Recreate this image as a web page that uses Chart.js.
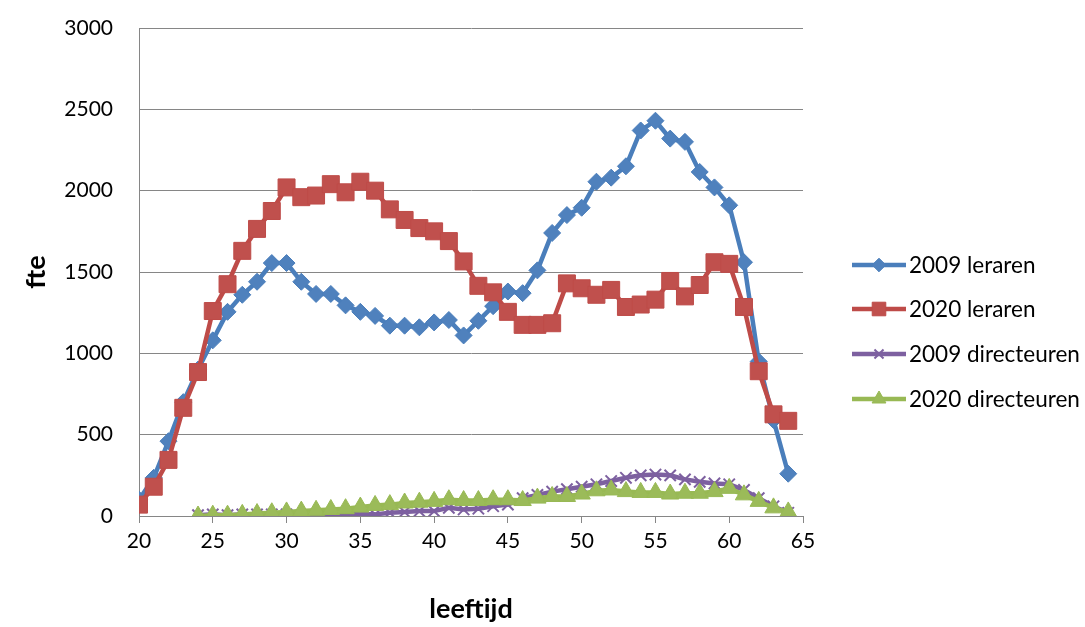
<!DOCTYPE html>
<html lang="nl">
<head>
<meta charset="UTF-8">
<title>fte naar leeftijd</title>
<script src="https://cdn.jsdelivr.net/npm/chart.js@4/dist/chart.umd.min.js"></script>
<style>
  html, body { margin: 0; padding: 0; background: #fff; }
  #wrap { width: 1085px; height: 627px; position: relative; }
</style>
</head>
<body>
<div id="wrap"><canvas id="chart" width="1085" height="627"></canvas></div>
<script>
// ages 20..64 for leraren, 24..64 for directeuren
const agesLeraren = [20, 21, 22, 23, 24, 25, 26, 27, 28, 29, 30, 31, 32, 33, 34, 35, 36, 37, 38, 39, 40, 41, 42,
  43, 44, 45, 46, 47, 48, 49, 50, 51, 52, 53, 54, 55, 56, 57, 58, 59, 60, 61, 62, 63, 64];
const agesDirecteuren = [24, 25, 26, 27, 28, 29, 30, 31, 32, 33, 34, 35, 36, 37, 38, 39, 40, 41, 42,
  43, 44, 45, 46, 47, 48, 49, 50, 51, 52, 53, 54, 55, 56, 57, 58, 59, 60, 61, 62, 63, 64];

const leraren2009 = [100, 235, 460, 700, 900, 1080, 1255, 1360, 1440, 1555, 1555, 1440, 1365, 1365, 1295,
  1255, 1230, 1170, 1170, 1160, 1190, 1205, 1110, 1200, 1290, 1380, 1370, 1510, 1740, 1850, 1895, 2055,
  2080, 2150, 2370, 2430, 2320, 2300, 2115, 2020, 1910, 1560, 950, 590, 260];
const leraren2020 = [70, 180, 345, 665, 885, 1260, 1425, 1630, 1765, 1875, 2020, 1960, 1970, 2040, 1990,
  2055, 2000, 1885, 1820, 1770, 1750, 1690, 1565, 1415, 1375, 1255, 1175, 1175, 1185, 1430, 1400, 1360,
  1390, 1285, 1300, 1330, 1445, 1350, 1420, 1560, 1550, 1285, 890, 625, 585];
const directeuren2009 = [5, 10, 5, 10, 10, 10, 10, 5, 10, 10, 15, 10, 10, 20, 25, 30, 30, 50, 40, 45, 60,
  70, 110, 130, 150, 165, 180, 195, 215, 235, 250, 255, 250, 225, 210, 200, 195, 160, 110, 60, 20];
const directeuren2020 = [0, 5, 5, 10, 15, 20, 25, 30, 35, 40, 45, 55, 65, 70, 80, 85, 90, 100, 95, 95, 100,
  100, 95, 110, 120, 120, 135, 155, 160, 150, 145, 145, 135, 140, 140, 150, 170, 130, 90, 50, 25];

const seriesNames = ['2009 leraren', '2020 leraren', '2009 directeuren', '2020 directeuren'];
const xTicks = [20, 25, 30, 35, 40, 45, 50, 55, 60, 65];
const yTicks = [0, 500, 1000, 1500, 2000, 2500, 3000];

const FONT = 'Lato, "Liberation Sans", sans-serif';

function pts(xs, ys) {
  return xs.map((x, i) => ({ x: x, y: ys[i] }));
}

const datasets = [
  {
    label: seriesNames[0],
    data: pts(agesLeraren, leraren2009),
    borderColor: '#4A7EBB', backgroundColor: '#4F81BD',
    pointStyle: 'rectRot', pointRadius: 8.5, pointBorderColor: '#4A7EBB', pointBorderWidth: 1
  },
  {
    label: seriesNames[1],
    data: pts(agesLeraren, leraren2020),
    borderColor: '#BE4B48', backgroundColor: '#C0504D',
    pointStyle: 'rect', pointRadius: 12, pointBorderColor: '#BE4B48', pointBorderWidth: 1
  },
  {
    label: seriesNames[2],
    data: pts(agesDirecteuren, directeuren2009),
    borderColor: '#7D60A0', backgroundColor: '#8064A2',
    pointStyle: 'crossRot', pointRadius: 8, pointBorderColor: '#7D60A0', pointBorderWidth: 2
  },
  {
    label: seriesNames[3],
    data: pts(agesDirecteuren, directeuren2020),
    borderColor: '#98B954', backgroundColor: '#9BBB59',
    pointStyle: 'triangle', pointRadius: 10, pointBorderColor: '#98B954', pointBorderWidth: 1
  }
];
// later series sit on top, as in the original
datasets.forEach((d, i) => { d.borderWidth = 4.5; d.tension = 0; d.fill = false; d.order = datasets.length - i; });

// legend drawn by hand: line with marker in the middle, like the original
const sideLegend = {
  id: 'sideLegend',
  afterDraw(chart) {
    const ctx = chart.ctx;
    const rows = [265, 309, 354, 399];
    ctx.save();
    chart.data.datasets.forEach((ds, i) => {
      const y = rows[i];
      ctx.strokeStyle = ds.borderColor;
      ctx.lineWidth = 4.5;
      ctx.beginPath();
      ctx.moveTo(852, y);
      ctx.lineTo(906, y);
      ctx.stroke();
      ctx.fillStyle = ds.backgroundColor;
      ctx.strokeStyle = ds.pointBorderColor;
      ctx.lineWidth = ds.pointBorderWidth;
      Chart.helpers.drawPoint(ctx, { pointStyle: ds.pointStyle, radius: ds.pointRadius * 0.8, borderWidth: ds.pointBorderWidth }, 879, y);
      ctx.fillStyle = '#000';
      ctx.font = '22.5px ' + FONT;
      ctx.textBaseline = 'middle';
      ctx.textAlign = 'left';
      ctx.fillText(ds.label, 909, y + 1);
    });
    ctx.restore();
  }
};

new Chart(document.getElementById('chart'), {
  type: 'line',
  data: { datasets: datasets },
  options: {
    responsive: false,
    animation: false,
    layout: { padding: { top: 28, right: 282, bottom: 0, left: 0 } },
    plugins: { legend: { display: false }, tooltip: { enabled: false } },
    scales: {
      x: {
        type: 'linear', min: 20, max: 65,
        afterFit: s => { s.height = 111; s.paddingLeft = 0; s.paddingRight = 0; },
        afterBuildTicks: s => { s.ticks = xTicks.map(v => ({ value: v })); },
        grid: { drawOnChartArea: false, drawTicks: true, tickLength: 7, color: '#868686' },
        border: { color: '#868686', width: 1 },
        ticks: { color: '#000', font: { family: FONT, size: 21 }, padding: 6, maxRotation: 0, callback: v => String(v) },
        title: { display: true, text: 'leeftijd', color: '#000', font: { family: FONT, size: 27, weight: 'bold' }, padding: { top: 0, bottom: 2 } }
      },
      y: {
        min: 0, max: 3000,
        afterFit: s => { s.width = 139; s.paddingTop = 0; s.paddingBottom = 0; },
        afterBuildTicks: s => { s.ticks = yTicks.map(v => ({ value: v })); },
        grid: { drawTicks: false, color: '#868686' },
        border: { color: '#868686', width: 1 },
        ticks: { color: '#000', font: { family: FONT, size: 21 }, padding: 26, callback: v => String(v) },
        title: { display: true, text: 'fte', color: '#000', font: { family: FONT, size: 27, weight: 'bold' }, padding: { top: 20, bottom: 0 } }
      }
    }
  },
  plugins: [sideLegend]
});
</script>
</body>
</html>
